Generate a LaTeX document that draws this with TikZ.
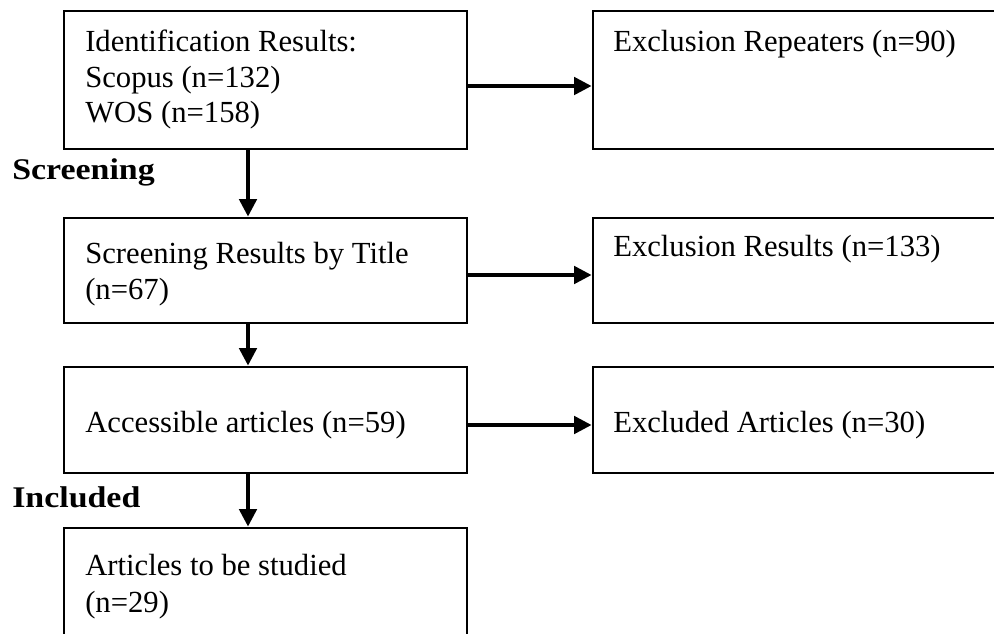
\documentclass[tikz,border=0pt]{standalone}
\usepackage{fontspec}
\setmainfont{Liberation Serif}
\newfontfamily\lblfont{Liberation Serif}[FakeStretch=1.13]
\usetikzlibrary{arrows.meta,fit}
\begin{document}
\begin{tikzpicture}[x=0.75pt,y=-0.75pt,
  box/.style={draw, line width=2.2pt, inner sep=0pt},
  arr/.style={line width=2.6pt, -{Triangle[length=13pt,width=13pt]}},
  txt/.style={anchor=base west, inner sep=0pt, font=\fontsize{23}{27}\selectfont},
  lbl/.style={anchor=base west, inner sep=0pt, font=\lblfont\bfseries\fontsize{22.5}{27}\selectfont}]
\useasboundingbox (0,0) rectangle (994,634);
\fill[white] (0,0) rectangle (994,634);
\clip (0,0) rectangle (994,634);
% boxes
\node[box, fit={(64,11) (467,149)}] (A) {};
\node[box, fit={(593,11) (1010,149)}] (B) {};
\node[box, fit={(64,218) (467,323)}] (C) {};
\node[box, fit={(593,218) (1010,323)}] (D) {};
\node[box, fit={(64,367) (467,473)}] (E) {};
\node[box, fit={(593,367) (1010,473)}] (F) {};
\node[box, fit={(64,528) (467,660)}] (G) {};
% texts
\node[txt] (a1) at (85,52) {Identification Results:};
\node[txt] (a2) at (85,87.5) {Scopus (n=132)};
\node[txt] (a3) at (85,123) {WOS (n=158)};
\node[txt] (b1) at (613,52) {Exclusion Repeaters (n=90)};
\node[txt] (c1) at (85,263) {Screening Results by Title};
\node[txt] (c2) at (85,299) {(n=67)};
\node[txt] (d1) at (613,257) {Exclusion Results (n=133)};
\node[txt] (e1) at (85,432) {Accessible articles (n=59)};
\node[txt] (f1) at (613,432) {Excluded Articles (n=30)};
\node[txt] (g1) at (85,575) {Articles to be studied};
\node[txt] (g2) at (85,612) {(n=29)};
\node[lbl] (s) at (12,180) {Screening};
\node[lbl] (i) at (12,507) {Included};
% connectors
\draw[arr] (A.east |- 0,86) -- (B.west |- 0,86);
\draw[arr] (C.east |- 0,275) -- (D.west |- 0,275);
\draw[arr] (E.east |- 0,425) -- (F.west |- 0,425);
\draw[arr] (A.south -| 248,0) -- (C.north -| 248,0);
\draw[arr] (C.south -| 248,0) -- (E.north -| 248,0);
\draw[arr] (E.south -| 248,0) -- (G.north -| 248,0);
\end{tikzpicture}
\end{document}
